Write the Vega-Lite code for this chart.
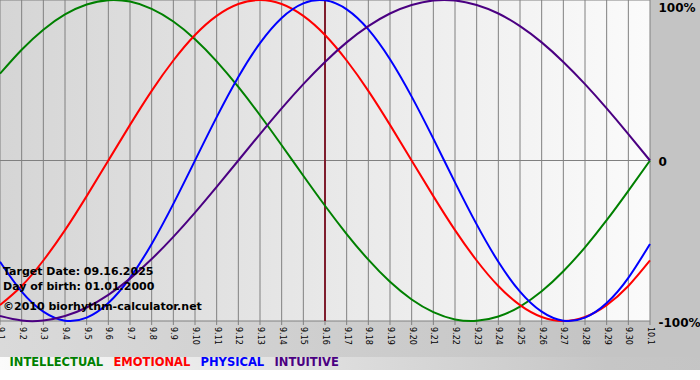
{
  "$schema": "https://vega.github.io/schema/vega-lite/v6.json",
  "width": 650,
  "height": 321,
  "autosize": {"type": "none"},
  "padding": {"left": 0, "top": 0, "right": 50, "bottom": 59},
  "background": "#ffffff",
  "config": {"view": {"stroke": null}, "font": "DejaVu Sans", "axisX": {"disable": true}},
  "datasets": {
    "bio": [
      {"d": 0, "lab": "9.1", "INTELLECTUAL": 0.541, "EMOTIONAL": -0.901, "PHYSICAL": -0.631, "INTUITIVE": -0.969},
      {"d": 1, "lab": "9.2", "INTELLECTUAL": 0.690, "EMOTIONAL": -0.782, "PHYSICAL": -0.817, "INTUITIVE": -0.997},
      {"d": 2, "lab": "9.3", "INTELLECTUAL": 0.815, "EMOTIONAL": -0.623, "PHYSICAL": -0.942, "INTUITIVE": -0.997},
      {"d": 3, "lab": "9.4", "INTELLECTUAL": 0.910, "EMOTIONAL": -0.434, "PHYSICAL": -0.998, "INTUITIVE": -0.969},
      {"d": 4, "lab": "9.5", "INTELLECTUAL": 0.972, "EMOTIONAL": -0.222, "PHYSICAL": -0.979, "INTUITIVE": -0.916},
      {"d": 5, "lab": "9.6", "INTELLECTUAL": 0.999, "EMOTIONAL": 0.0, "PHYSICAL": -0.888, "INTUITIVE": -0.837},
      {"d": 6, "lab": "9.7", "INTELLECTUAL": 0.990, "EMOTIONAL": 0.222, "PHYSICAL": -0.731, "INTUITIVE": -0.736},
      {"d": 7, "lab": "9.8", "INTELLECTUAL": 0.945, "EMOTIONAL": 0.434, "PHYSICAL": -0.520, "INTUITIVE": -0.614},
      {"d": 8, "lab": "9.9", "INTELLECTUAL": 0.866, "EMOTIONAL": 0.623, "PHYSICAL": -0.270, "INTUITIVE": -0.476},
      {"d": 9, "lab": "9.10", "INTELLECTUAL": 0.756, "EMOTIONAL": 0.782, "PHYSICAL": 0.0, "INTUITIVE": -0.325},
      {"d": 10, "lab": "9.11", "INTELLECTUAL": 0.618, "EMOTIONAL": 0.901, "PHYSICAL": 0.270, "INTUITIVE": -0.165},
      {"d": 11, "lab": "9.12", "INTELLECTUAL": 0.458, "EMOTIONAL": 0.975, "PHYSICAL": 0.520, "INTUITIVE": 0.0},
      {"d": 12, "lab": "9.13", "INTELLECTUAL": 0.282, "EMOTIONAL": 1.0, "PHYSICAL": 0.731, "INTUITIVE": 0.165},
      {"d": 13, "lab": "9.14", "INTELLECTUAL": 0.095, "EMOTIONAL": 0.975, "PHYSICAL": 0.888, "INTUITIVE": 0.325},
      {"d": 14, "lab": "9.15", "INTELLECTUAL": -0.095, "EMOTIONAL": 0.901, "PHYSICAL": 0.979, "INTUITIVE": 0.476},
      {"d": 15, "lab": "9.16", "INTELLECTUAL": -0.282, "EMOTIONAL": 0.782, "PHYSICAL": 0.998, "INTUITIVE": 0.614},
      {"d": 16, "lab": "9.17", "INTELLECTUAL": -0.458, "EMOTIONAL": 0.623, "PHYSICAL": 0.942, "INTUITIVE": 0.736},
      {"d": 17, "lab": "9.18", "INTELLECTUAL": -0.618, "EMOTIONAL": 0.434, "PHYSICAL": 0.817, "INTUITIVE": 0.837},
      {"d": 18, "lab": "9.19", "INTELLECTUAL": -0.756, "EMOTIONAL": 0.222, "PHYSICAL": 0.631, "INTUITIVE": 0.916},
      {"d": 19, "lab": "9.20", "INTELLECTUAL": -0.866, "EMOTIONAL": 0.0, "PHYSICAL": 0.398, "INTUITIVE": 0.969},
      {"d": 20, "lab": "9.21", "INTELLECTUAL": -0.945, "EMOTIONAL": -0.222, "PHYSICAL": 0.136, "INTUITIVE": 0.997},
      {"d": 21, "lab": "9.22", "INTELLECTUAL": -0.990, "EMOTIONAL": -0.434, "PHYSICAL": -0.136, "INTUITIVE": 0.997},
      {"d": 22, "lab": "9.23", "INTELLECTUAL": -0.999, "EMOTIONAL": -0.623, "PHYSICAL": -0.398, "INTUITIVE": 0.969},
      {"d": 23, "lab": "9.24", "INTELLECTUAL": -0.972, "EMOTIONAL": -0.782, "PHYSICAL": -0.631, "INTUITIVE": 0.916},
      {"d": 24, "lab": "9.25", "INTELLECTUAL": -0.910, "EMOTIONAL": -0.901, "PHYSICAL": -0.817, "INTUITIVE": 0.837},
      {"d": 25, "lab": "9.26", "INTELLECTUAL": -0.815, "EMOTIONAL": -0.975, "PHYSICAL": -0.942, "INTUITIVE": 0.736},
      {"d": 26, "lab": "9.27", "INTELLECTUAL": -0.690, "EMOTIONAL": -1.0, "PHYSICAL": -0.998, "INTUITIVE": 0.614},
      {"d": 27, "lab": "9.28", "INTELLECTUAL": -0.541, "EMOTIONAL": -0.975, "PHYSICAL": -0.979, "INTUITIVE": 0.476},
      {"d": 28, "lab": "9.29", "INTELLECTUAL": -0.372, "EMOTIONAL": -0.901, "PHYSICAL": -0.888, "INTUITIVE": 0.325},
      {"d": 29, "lab": "9.30", "INTELLECTUAL": -0.189, "EMOTIONAL": -0.782, "PHYSICAL": -0.731, "INTUITIVE": 0.165},
      {"d": 30, "lab": "10.1", "INTELLECTUAL": 0.0, "EMOTIONAL": -0.623, "PHYSICAL": -0.520, "INTUITIVE": 0.0}
    ],
    "one": [{"k": 1}],
    "levels": [{"level": -1}, {"level": 0}, {"level": 1}]
  },
  "layer": [
    {
      "data": {"name": "one"},
      "mark": {"type": "rect", "fill": {"gradient": "linear", "x1": 0, "y1": 0, "x2": 1, "y2": 0, "stops": [{"offset": 0, "color": "#dadada"}, {"offset": 0.85, "color": "#c4c4c4"}, {"offset": 1, "color": "#c4c4c4"}]}},
      "encoding": {"x": {"datum": 0}, "x2": {"datum": 33}, "y": {"datum": 1.1}, "y2": {"datum": -1.2243}}
    },
    {
      "data": {"name": "one"},
      "mark": {"type": "rect", "fill": {"gradient": "linear", "x1": 0, "y1": 0, "x2": 1, "y2": 0, "stops": [{"offset": 0, "color": "#fbfbfb"}, {"offset": 0.85, "color": "#c6c6c6"}, {"offset": 1, "color": "#c4c4c4"}]}},
      "encoding": {"x": {"datum": 0}, "x2": {"datum": 33}, "y": {"datum": -1.2243}, "y2": {"datum": -1.3053}}
    },
    {
      "data": {"name": "one"},
      "mark": {"type": "rect", "fill": {"gradient": "linear", "x1": 0, "y1": 0, "x2": 1, "y2": 0, "stops": [{"offset": 0, "color": "#d5d5d5"}, {"offset": 1, "color": "#fbfbfb"}]}},
      "encoding": {"x": {"datum": 0}, "x2": {"datum": 30}, "y": {"datum": -1}, "y2": {"datum": 1}}
    },
    {
      "data": {"name": "bio"},
      "mark": {"type": "rule", "color": "#808080", "strokeWidth": 1},
      "encoding": {"x": {"field": "d", "type": "quantitative"}, "y": {"datum": -1.025}, "y2": {"datum": 1}}
    },
    {
      "data": {"name": "bio"},
      "mark": {"type": "text", "angle": 90, "align": "left", "baseline": "middle", "dx": 6, "font": "DejaVu Sans", "fontSize": 8, "color": "#000000"},
      "encoding": {"x": {"field": "d", "type": "quantitative"}, "y": {"datum": -1}, "text": {"field": "lab", "type": "nominal"}}
    },
    {
      "data": {"name": "levels"},
      "mark": {"type": "rule", "color": "#808080", "strokeWidth": 1},
      "encoding": {"y": {"field": "level", "type": "quantitative"}, "x": {"datum": 0}, "x2": {"datum": 30}}
    },
    {
      "data": {"name": "one"},
      "mark": {"type": "rule", "color": "#7f1d2d", "strokeWidth": 2},
      "encoding": {"x": {"datum": 15}, "y": {"datum": -1}, "y2": {"datum": 1}}
    },
    {
      "data": {"name": "bio"},
      "transform": [{"fold": ["INTELLECTUAL", "EMOTIONAL", "PHYSICAL", "INTUITIVE"], "as": ["series", "value"]}],
      "mark": {"type": "line", "interpolate": "natural", "strokeWidth": 2},
      "encoding": {
        "x": {"field": "d", "type": "quantitative", "title": null,
          "scale": {"domain": [0, 30], "nice": false, "zero": false}},
        "y": {"field": "value", "type": "quantitative", "title": null,
          "scale": {"domain": [-1, 1], "nice": false, "zero": false},
          "axis": {"orient": "right", "values": [-1, 0, 1],
            "labelExpr": "datum.value == 1 ? '100%' : datum.value == 0 ? '0' : '-100%'",
            "ticks": false, "domain": false, "grid": false, "labelPadding": 8,
            "labelFont": "DejaVu Sans", "labelFontSize": 12, "labelFontWeight": "bold", "labelColor": "#000000",
            "labelBaseline": "middle",
            "labelOffset": {"condition": {"test": "datum.value == 1", "value": 7}, "value": 1},
            "labelOverlap": false, "labelBound": false, "labelFlush": false, "title": null, "zindex": 1}},
        "color": {"field": "series", "type": "nominal",
          "scale": {"domain": ["INTELLECTUAL", "EMOTIONAL", "PHYSICAL", "INTUITIVE"], "range": ["#008000", "#ff0000", "#0000ff", "#4b0082"]},
          "legend": {"orient": "bottom", "direction": "horizontal", "title": null,
            "symbolSize": 0, "symbolOpacity": 0, "symbolStrokeWidth": 0, "labelOffset": -2,
            "labelFont": "DejaVu Sans", "labelFontSize": 11.5, "labelFontWeight": "bold",
            "columnPadding": 0, "offset": 31, "padding": 0, "zindex": 1,
            "encode": {"labels": {"update": {"fill": {"scale": "color", "field": "value"}}}}}}
      }
    },
    {
      "data": {"name": "one"},
      "mark": {"type": "text", "text": "Target Date: 09.16.2025", "align": "left", "baseline": "middle", "dx": 3, "font": "DejaVu Sans", "fontSize": 11, "fontWeight": "bold", "color": "#000000"},
      "encoding": {"x": {"datum": 0}, "y": {"datum": -0.695}}
    },
    {
      "data": {"name": "one"},
      "mark": {"type": "text", "text": "Day of birth: 01.01.2000", "align": "left", "baseline": "middle", "dx": 3, "font": "DejaVu Sans", "fontSize": 11, "fontWeight": "bold", "color": "#000000"},
      "encoding": {"x": {"datum": 0}, "y": {"datum": -0.788}}
    },
    {
      "data": {"name": "one"},
      "mark": {"type": "text", "text": "©2010 biorhythm-calculator.net", "align": "left", "baseline": "middle", "dx": 3, "font": "DejaVu Sans", "fontSize": 11, "fontWeight": "bold", "color": "#000000"},
      "encoding": {"x": {"datum": 0}, "y": {"datum": -0.913}}
    }
  ]
}
